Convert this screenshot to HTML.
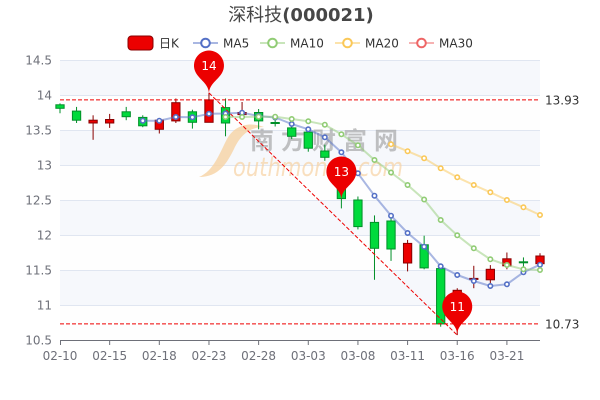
<!DOCTYPE html>
<html>
<head>
<meta charset="utf-8">
<style>
html,body{margin:0;padding:0;background:#fff;}
svg{display:block;}
text{font-family:"DejaVu Sans","Liberation Sans","Noto Sans CJK SC",sans-serif;}
</style>
</head>
<body>
<svg width="600" height="400" viewBox="0 0 600 400" xmlns="http://www.w3.org/2000/svg">
<!-- title -->
<text x="301" y="21" text-anchor="middle" font-size="18" fill="#464646"><tspan font-family="'Noto Sans CJK SC','WenQuanYi Zen Hei',sans-serif" font-weight="normal">深科技</tspan><tspan font-weight="bold">(000021)</tspan></text>

<!-- legend -->
<rect x="128" y="36" width="25" height="14" rx="3.5" fill="#ec0000" stroke="#8a0000" stroke-width="1"/>
<text x="159" y="47.3" font-size="12" fill="#333"><tspan font-family="'Noto Sans CJK SC',sans-serif">日</tspan>K</text>
<line x1="193" y1="43" x2="218" y2="43" stroke="#5470c6" stroke-width="2" stroke-opacity="0.5"/>
<circle cx="205.5" cy="43" r="4.3" fill="#fff" stroke="#5470c6" stroke-width="2"/>
<text x="223" y="47.3" font-size="12" fill="#333">MA5</text>
<line x1="260" y1="43" x2="285" y2="43" stroke="#91cc75" stroke-width="2" stroke-opacity="0.5"/>
<circle cx="272.5" cy="43" r="4.3" fill="#fff" stroke="#91cc75" stroke-width="2"/>
<text x="290" y="47.3" font-size="12" fill="#333">MA10</text>
<line x1="335" y1="43" x2="360" y2="43" stroke="#fac858" stroke-width="2" stroke-opacity="0.5"/>
<circle cx="347.5" cy="43" r="4.3" fill="#fff" stroke="#fac858" stroke-width="2"/>
<text x="365" y="47.3" font-size="12" fill="#333">MA20</text>
<line x1="409" y1="43" x2="434" y2="43" stroke="#ee6666" stroke-width="2" stroke-opacity="0.5"/>
<circle cx="421.5" cy="43" r="4.3" fill="#fff" stroke="#ee6666" stroke-width="2"/>
<text x="439" y="47.3" font-size="12" fill="#333">MA30</text>

<!-- split areas -->
<rect x="60" y="60" width="480" height="35" fill="#f6f8fc"/>
<rect x="60" y="95" width="480" height="35" fill="#fefefe"/>
<rect x="60" y="130" width="480" height="35" fill="#f6f8fc"/>
<rect x="60" y="165" width="480" height="35" fill="#fefefe"/>
<rect x="60" y="200" width="480" height="35" fill="#f6f8fc"/>
<rect x="60" y="235" width="480" height="35" fill="#fefefe"/>
<rect x="60" y="270" width="480" height="35" fill="#f6f8fc"/>
<rect x="60" y="305" width="480" height="35" fill="#fefefe"/>

<!-- grid lines -->
<g stroke="#e0e6f1" stroke-width="1">
<line x1="60" y1="60.5" x2="540" y2="60.5"/>
<line x1="60" y1="95.5" x2="540" y2="95.5"/>
<line x1="60" y1="130.5" x2="540" y2="130.5"/>
<line x1="60" y1="165.5" x2="540" y2="165.5"/>
<line x1="60" y1="200.5" x2="540" y2="200.5"/>
<line x1="60" y1="235.5" x2="540" y2="235.5"/>
<line x1="60" y1="270.5" x2="540" y2="270.5"/>
<line x1="60" y1="305.5" x2="540" y2="305.5"/>
</g>

<!-- y labels -->
<g font-size="12" fill="#6e7079" text-anchor="end">
<text x="52" y="64.4">14.5</text>
<text x="52" y="99.4">14</text>
<text x="52" y="134.4">13.5</text>
<text x="52" y="169.4">13</text>
<text x="52" y="204.4">12.5</text>
<text x="52" y="239.4">12</text>
<text x="52" y="274.4">11.5</text>
<text x="52" y="309.4">11</text>
<text x="52" y="344.4">10.5</text>
</g>

<!-- watermark -->
<path d="M199,177 C214,171 220,152 227,139 C234,126 248,121 264,127 C249,127 240,136 234,149 C227,163 219,177 199,177 Z" fill="#f6d2a2" fill-opacity="0.8"/>
<text x="250" y="149" font-size="24" font-weight="bold" textLength="148" lengthAdjust="spacing" fill="#9a9a9a" fill-opacity="0.6" font-family="'Noto Sans CJK SC','WenQuanYi Zen Hei',sans-serif">南方财富网</text>
<text x="233" y="176" font-size="26" font-style="italic" textLength="170" lengthAdjust="spacingAndGlyphs" fill="#f6d2a2" fill-opacity="0.7" font-family="'Liberation Serif',serif">outhmoney.com</text>

<!-- x axis -->
<line x1="60" y1="340.5" x2="540" y2="340.5" stroke="#6e7079" stroke-width="1"/>
<g stroke="#6e7079" stroke-width="1">
<line x1="60.5" y1="340" x2="60.5" y2="345"/>
<line x1="109.66" y1="340" x2="109.66" y2="345"/>
<line x1="159.31" y1="340" x2="159.31" y2="345"/>
<line x1="208.97" y1="340" x2="208.97" y2="345"/>
<line x1="258.62" y1="340" x2="258.62" y2="345"/>
<line x1="308.28" y1="340" x2="308.28" y2="345"/>
<line x1="357.93" y1="340" x2="357.93" y2="345"/>
<line x1="407.59" y1="340" x2="407.59" y2="345"/>
<line x1="457.24" y1="340" x2="457.24" y2="345"/>
<line x1="506.90" y1="340" x2="506.90" y2="345"/>
</g>
<g font-size="12" fill="#6e7079" text-anchor="middle">
<text x="60" y="360">02-10</text>
<text x="109.66" y="360">02-15</text>
<text x="159.31" y="360">02-18</text>
<text x="208.97" y="360">02-23</text>
<text x="258.62" y="360">02-28</text>
<text x="308.28" y="360">03-03</text>
<text x="357.93" y="360">03-08</text>
<text x="407.59" y="360">03-11</text>
<text x="457.24" y="360">03-16</text>
<text x="506.90" y="360">03-21</text>
</g>

<!-- candles: green (down) -->
<g stroke="#008f28" stroke-width="1" fill="#00da3c">
<line x1="60" y1="103.4" x2="60" y2="113.2"/><rect x="55.86" y="104.8" width="8.28" height="3.5"/>
<line x1="76.55" y1="106.9" x2="76.55" y2="123"/><rect x="72.41" y="111.1" width="8.28" height="9.1"/>
<line x1="126.21" y1="106.9" x2="126.21" y2="120.2"/><rect x="122.07" y="111.8" width="8.28" height="4.9"/>
<line x1="142.76" y1="115.3" x2="142.76" y2="127.2"/><rect x="138.62" y="117.4" width="8.28" height="8.4"/>
<line x1="192.41" y1="109.7" x2="192.41" y2="128.6"/><rect x="188.27" y="111.8" width="8.28" height="10.5"/>
<line x1="225.52" y1="98.5" x2="225.52" y2="136.3"/><rect x="221.38" y="107.6" width="8.28" height="15.4"/>
<line x1="258.62" y1="109" x2="258.62" y2="129.3"/><rect x="254.48" y="112.5" width="8.28" height="8.4"/>
<line x1="275.17" y1="119.5" x2="275.17" y2="126.5"/><rect x="271.03" y="122.5" width="8.28" height="1"/>
<line x1="291.72" y1="126.5" x2="291.72" y2="139.1"/><rect x="287.58" y="127.9" width="8.28" height="8.4"/>
<line x1="308.28" y1="126.5" x2="308.28" y2="151.7"/><rect x="304.14" y="132.1" width="8.28" height="16.1"/>
<line x1="324.83" y1="144.7" x2="324.83" y2="160.8"/><rect x="320.69" y="151" width="8.28" height="6.3"/>
<line x1="341.38" y1="168.5" x2="341.38" y2="208.4"/><rect x="337.24" y="175.5" width="8.28" height="23.1"/>
<line x1="357.93" y1="196.5" x2="357.93" y2="229.4"/><rect x="353.79" y="200" width="8.28" height="26.6"/>
<line x1="374.48" y1="215.4" x2="374.48" y2="279.8"/><rect x="370.34" y="222.4" width="8.28" height="25.9"/>
<line x1="391.03" y1="216.8" x2="391.03" y2="260.9"/><rect x="386.89" y="221" width="8.28" height="28"/>
<line x1="424.14" y1="235.7" x2="424.14" y2="269.3"/><rect x="420" y="244.8" width="8.28" height="23.1"/>
<line x1="440.69" y1="268.6" x2="440.69" y2="326.7"/><rect x="436.55" y="268.6" width="8.28" height="55.3"/>
<line x1="523.45" y1="257.4" x2="523.45" y2="267.2"/><rect x="519.31" y="261.8" width="8.28" height="1"/>
</g>
<!-- candles: red (up) -->
<g stroke="#8a0000" stroke-width="1" fill="#ec0000">
<line x1="93.10" y1="115.3" x2="93.10" y2="139.8"/><rect x="88.96" y="120.2" width="8.28" height="2.8"/>
<line x1="109.66" y1="113.9" x2="109.66" y2="127.9"/><rect x="105.52" y="119.5" width="8.28" height="3.5"/>
<line x1="159.31" y1="119.5" x2="159.31" y2="133.5"/><rect x="155.17" y="120.2" width="8.28" height="9.1"/>
<line x1="175.86" y1="98.5" x2="175.86" y2="123"/><rect x="171.72" y="102.7" width="8.28" height="18.2"/>
<line x1="208.97" y1="92.9" x2="208.97" y2="122.3"/><rect x="204.83" y="99.9" width="8.28" height="22.4"/>
<line x1="242.07" y1="102" x2="242.07" y2="116"/><rect x="237.93" y="112.5" width="8.28" height="2.1"/>
<line x1="407.59" y1="239.9" x2="407.59" y2="271.4"/><rect x="403.45" y="243.4" width="8.28" height="19.6"/>
<line x1="457.24" y1="288.2" x2="457.24" y2="335.1"/><rect x="453.10" y="290.3" width="8.28" height="28.7"/>
<line x1="473.79" y1="265.8" x2="473.79" y2="288.2"/><rect x="469.65" y="278.4" width="8.28" height="1"/>
<line x1="490.34" y1="265.1" x2="490.34" y2="283.3"/><rect x="486.20" y="269.3" width="8.28" height="10.5"/>
<line x1="506.90" y1="252.5" x2="506.90" y2="269.3"/><rect x="502.76" y="258.8" width="8.28" height="7"/>
<line x1="540" y1="253.2" x2="540" y2="265.1"/><rect x="535.86" y="256" width="8.28" height="7.7"/>
</g>

<!-- mark lines -->
<g stroke="#ee0000" stroke-width="1" stroke-dasharray="4 2" fill="none">
<line x1="60" y1="99.9" x2="540" y2="99.9"/>
<line x1="60" y1="323.9" x2="540" y2="323.9"/>
<line x1="208.97" y1="92.9" x2="457.24" y2="335.1"/>
</g>
<g font-size="12" fill="#333">
<text x="545" y="104.3">13.93</text>
<text x="545" y="328.3">10.73</text>
</g>

<!-- MA5 -->
<polyline fill="none" stroke="#5470c6" stroke-width="2" stroke-opacity="0.5" stroke-linejoin="round" points="142.76,120.7 159.31,120.7 175.86,117 192.41,117.3 208.97,113.8 225.52,113.5 242.07,112.7 258.62,116 275.17,117.5 291.72,124 308.28,129.3 324.83,137.3 341.38,152.3 357.93,173.3 374.48,195.7 391.03,215.7 407.59,233 424.14,246.7 440.69,266.3 457.24,275 473.79,281 490.34,286 506.90,284.3 523.45,272.3 540,264.7"/>
<!-- MA10 -->
<polyline fill="none" stroke="#91cc75" stroke-width="2" stroke-opacity="0.5" stroke-linejoin="round" points="225.52,117 242.07,117 258.62,116.7 275.17,116.7 291.72,119 308.28,121.3 324.83,124.7 341.38,134.3 357.93,145.3 374.48,160 391.03,172.5 407.59,185 424.14,199.5 440.69,220 457.24,235.3 473.79,248.3 490.34,259.3 506.90,265 523.45,269.3 540,270"/>
<!-- MA20 -->
<polyline fill="none" stroke="#fac858" stroke-width="2" stroke-opacity="0.5" stroke-linejoin="round" points="391.03,144.3 407.59,151.2 424.14,158.2 440.69,168.3 457.24,177.3 473.79,185 490.34,192.3 506.90,200 523.45,207.3 540,215"/>

<g fill="#fff" stroke="#5470c6" stroke-width="1.6">
<circle cx="142.76" cy="120.7" r="2.2"/><circle cx="159.31" cy="120.7" r="2.2"/><circle cx="175.86" cy="117" r="2.2"/><circle cx="192.41" cy="117.3" r="2.2"/><circle cx="208.97" cy="113.8" r="2.2"/><circle cx="225.52" cy="113.5" r="2.2"/><circle cx="242.07" cy="112.7" r="2.2"/><circle cx="258.62" cy="116" r="2.2"/><circle cx="275.17" cy="117.5" r="2.2"/><circle cx="291.72" cy="124" r="2.2"/><circle cx="308.28" cy="129.3" r="2.2"/><circle cx="324.83" cy="137.3" r="2.2"/><circle cx="341.38" cy="152.3" r="2.2"/><circle cx="357.93" cy="173.3" r="2.2"/><circle cx="374.48" cy="195.7" r="2.2"/><circle cx="391.03" cy="215.7" r="2.2"/><circle cx="407.59" cy="233" r="2.2"/><circle cx="424.14" cy="246.7" r="2.2"/><circle cx="440.69" cy="266.3" r="2.2"/><circle cx="457.24" cy="275" r="2.2"/><circle cx="473.79" cy="281" r="2.2"/><circle cx="490.34" cy="286" r="2.2"/><circle cx="506.90" cy="284.3" r="2.2"/><circle cx="523.45" cy="272.3" r="2.2"/><circle cx="540" cy="264.7" r="2.2"/>
</g>
<g fill="#fff" stroke="#91cc75" stroke-width="1.6">
<circle cx="225.52" cy="117" r="2.2"/><circle cx="242.07" cy="117" r="2.2"/><circle cx="258.62" cy="116.7" r="2.2"/><circle cx="275.17" cy="116.7" r="2.2"/><circle cx="291.72" cy="119" r="2.2"/><circle cx="308.28" cy="121.3" r="2.2"/><circle cx="324.83" cy="124.7" r="2.2"/><circle cx="341.38" cy="134.3" r="2.2"/><circle cx="357.93" cy="145.3" r="2.2"/><circle cx="374.48" cy="160" r="2.2"/><circle cx="391.03" cy="172.5" r="2.2"/><circle cx="407.59" cy="185" r="2.2"/><circle cx="424.14" cy="199.5" r="2.2"/><circle cx="440.69" cy="220" r="2.2"/><circle cx="457.24" cy="235.3" r="2.2"/><circle cx="473.79" cy="248.3" r="2.2"/><circle cx="490.34" cy="259.3" r="2.2"/><circle cx="506.90" cy="265" r="2.2"/><circle cx="523.45" cy="269.3" r="2.2"/><circle cx="540" cy="270" r="2.2"/>
</g>
<g fill="#fff" stroke="#fac858" stroke-width="1.6">
<circle cx="391.03" cy="144.3" r="2.2"/><circle cx="407.59" cy="151.2" r="2.2"/><circle cx="424.14" cy="158.2" r="2.2"/><circle cx="440.69" cy="168.3" r="2.2"/><circle cx="457.24" cy="177.3" r="2.2"/><circle cx="473.79" cy="185" r="2.2"/><circle cx="490.34" cy="192.3" r="2.2"/><circle cx="506.90" cy="200" r="2.2"/><circle cx="523.45" cy="207.3" r="2.2"/><circle cx="540" cy="215" r="2.2"/>
</g>

<!-- mark points (pins) -->
<g fill="#ec0000">
<path d="M195.42,71.93 A15,15 0 1 1 222.52,71.93 C218.66,80.06 208.97,83.57 208.97,94.07 C208.97,83.57 199.28,80.06 195.42,71.93 Z"/>
<path d="M327.83,177.93 A15,15 0 1 1 354.93,177.93 C351.07,186.06 341.38,189.57 341.38,200.07 C341.38,189.57 331.69,186.06 327.83,177.93 Z"/>
<path d="M443.69,312.93 A15,15 0 1 1 470.79,312.93 C466.93,321.06 457.24,324.57 457.24,335.07 C457.24,324.57 447.55,321.06 443.69,312.93 Z"/>
</g>
<g font-size="12" fill="#fff" text-anchor="middle">
<text x="208.97" y="69.9">14</text>
<text x="341.38" y="175.9">13</text>
<text x="457.24" y="310.9">11</text>
</g>
</svg>
</body>
</html>
